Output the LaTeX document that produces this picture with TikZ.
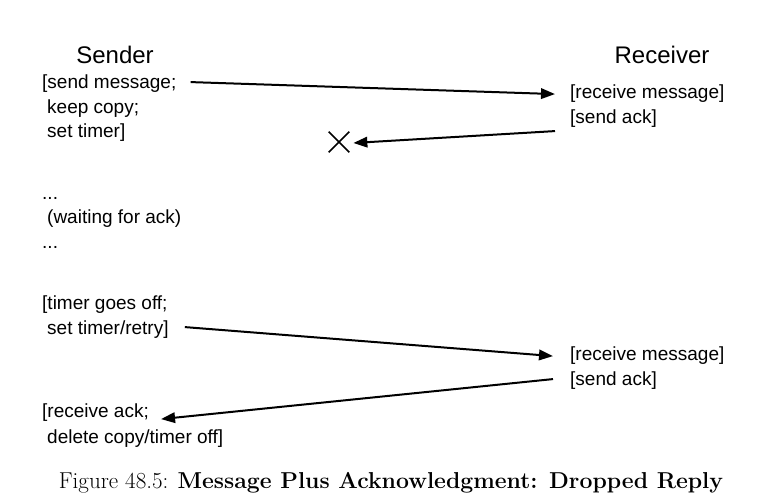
\documentclass[tikz,border=0pt]{standalone}
\usepackage{fontspec}
\newfontfamily\diagsans{Liberation Sans}
\usetikzlibrary{arrows.meta,shapes.misc,calc}
\tikzset{
  txt/.style={anchor=base west, inner sep=0pt, font=\diagsans\fontsize{19}{25}\selectfont},
  head/.style={anchor=base, inner sep=0pt, font=\diagsans\fontsize{24}{28}\selectfont},
  msg/.style={line width=2pt, -{Triangle[length=14pt,width=10.5pt]}},
  lost/.style={cross out, draw, line width=1.7pt, minimum size=19pt, inner sep=0pt}
}
\begin{document}
\begin{tikzpicture}[x=1pt,y=-1pt]
\useasboundingbox (0,0) rectangle (782,502);
% headers
\node[head] (sender) at (115,64) {Sender};
\node[head] (receiver) at (662,64) {Receiver};
% sender first block
\node[txt] (s1) at (42,89) {[send message;};
\node[txt] (s2) at (47,114) {keep copy;};
\node[txt] (s3) at (47,138) {set timer]};
% receiver first block
\node[txt] (r1) at (570,99) {[receive message]};
\node[txt] (r2) at (570,124) {[send ack]};
% lost ack
\node[lost] (x) at (339,142) {};
% waiting
\node[txt] (d1) at (42,200) {...};
\node[txt] (w) at (47,224) {(waiting for ack)};
\node[txt] (d2) at (42,249) {...};
% retry block
\node[txt] (t1) at (42,310) {[timer goes off;};
\node[txt] (t2) at (47,335) {set timer/retry]};
\node[txt] (r3) at (570,361) {[receive message]};
\node[txt] (r4) at (570,386) {[send ack]};
\node[txt] (a1) at (42,418) {[receive ack;};
\node[txt] (a2) at (47,443) {delete copy/timer off]};
% caption
\node[anchor=base, inner sep=0pt, font=\fontsize{23}{27}\selectfont] (cap) at (391,488)
  {Figure 48.5: \textbf{Message Plus Acknowledgment: Dropped Reply}};
% connectors
\draw[msg] ($(s1.east)+(14,-2)$) -- ($(r1.west)+(-15,0)$);
\draw[msg] ($(r2.west)+(-15,12)$) -- ($(x.east)+(4,1)$);
\draw[msg] ($(t2.east)+(16,-3)$) -- ($(r3.west)+(-17,0)$);
\draw[msg] ($(r4.west)+(-17,-2)$) -- ($(a1.east)+(12,6)$);
\end{tikzpicture}
\end{document}
